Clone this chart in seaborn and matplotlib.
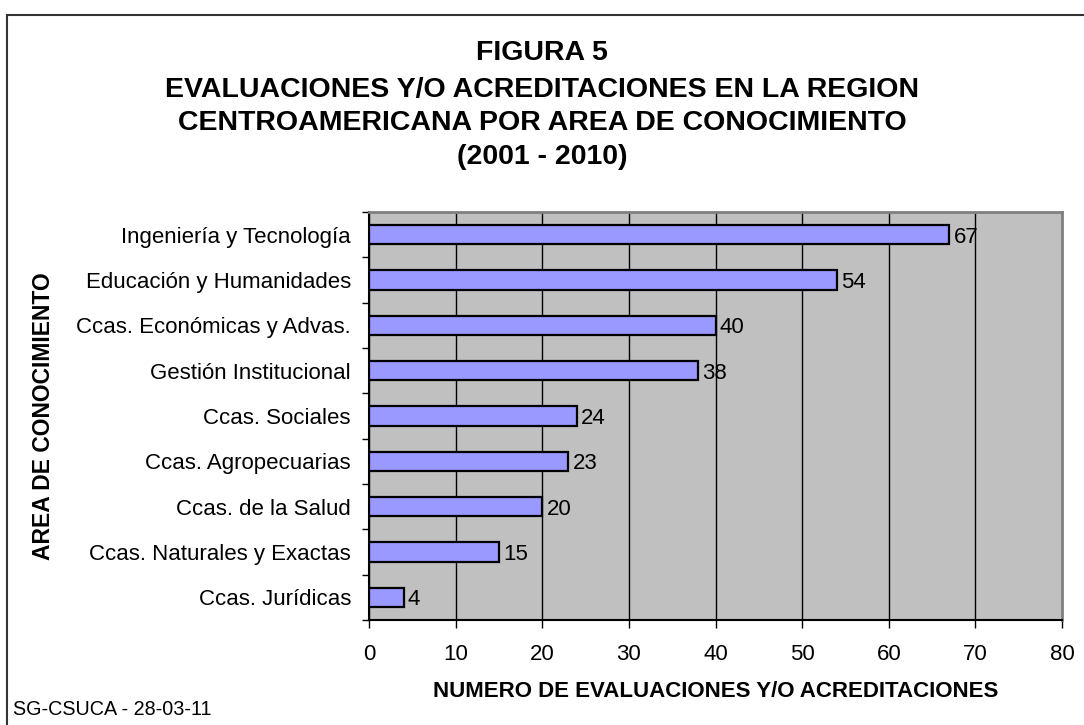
import matplotlib
matplotlib.use('Agg')
import matplotlib.pyplot as plt
import seaborn as sns
import pandas as pd
from matplotlib.patches import Rectangle

# data (top to bottom)
areas = ['Ingeniería y Tecnología', 'Educación y Humanidades', 'Ccas. Económicas y Advas.',
         'Gestión Institucional', 'Ccas. Sociales', 'Ccas. Agropecuarias',
         'Ccas. de la Salud', 'Ccas. Naturales y Exactas', 'Ccas. Jurídicas']
counts = [67, 54, 40, 38, 24, 23, 20, 15, 4]
x_ticks = [0, 10, 20, 30, 40, 50, 60, 70, 80]
title_lines = ['FIGURA 5',
               'EVALUACIONES Y/O ACREDITACIONES EN LA REGION',
               'CENTROAMERICANA POR AREA DE CONOCIMIENTO',
               '(2001 - 2010)']

df = pd.DataFrame({'area': areas, 'n': counts})

sns.set_style('white')
plt.rcParams['font.family'] = ['Liberation Sans', 'DejaVu Sans']
plt.rcParams['text.color'] = 'black'
plt.rcParams['axes.labelcolor'] = 'black'
plt.rcParams['xtick.color'] = 'black'
plt.rcParams['ytick.color'] = 'black'

fig = plt.figure(figsize=(10.84, 7.25), dpi=100)
ax = fig.add_axes([369 / 1084, 1 - 620 / 725, 693 / 1084, 408 / 725])
ax.set_facecolor('#C0C0C0')

sns.barplot(data=df, x='n', y='area', orient='h', color='#9999FF', width=0.42,
            edgecolor='black', linewidth=1.6, saturation=1, ax=ax, zorder=3)

ax.set_xlim(0, 80)
ax.set_ylim(len(areas) - 0.5, -0.5)
ax.set_xticks(x_ticks)
ax.xaxis.grid(True, color='black', linewidth=1)
ax.set_axisbelow(True)

# value labels
for i, v in enumerate(counts):
    ax.text(v + 0.5, i, str(v), va='center_baseline', ha='left', fontsize=16, zorder=4)

# category boundary ticks
ax.set_yticks([i - 0.5 for i in range(len(areas) + 1)], minor=True)
ax.tick_params(axis='y', which='major', length=0, pad=13, labelsize=16)
ax.tick_params(axis='y', which='minor', length=5, width=1, color='black', direction='out', left=True)
ax.tick_params(axis='x', which='major', length=6, width=1, color='black', direction='out',
               bottom=True, pad=11, labelsize=16)

for s in ['top', 'right']:
    ax.spines[s].set_color('#808080')
    ax.spines[s].set_linewidth(2)
for s in ['left', 'bottom']:
    ax.spines[s].set_color('black')
    ax.spines[s].set_linewidth(1.5)

ax.set_xlabel('NUMERO DE EVALUACIONES Y/O ACREDITACIONES', fontsize=16, fontweight='bold', labelpad=12)
ax.set_ylabel('AREA DE CONOCIMIENTO', fontsize=16.5, fontweight='bold')
ax.yaxis.set_label_coords((55 - 369) / 693, 0.5)

# title
baselines = [60, 97, 130, 164]
for line, yb in zip(title_lines, baselines):
    fig.text(0.5, 1 - yb / 725, line, ha='center', va='baseline', fontsize=20.5, fontweight='bold')

fig.text(13 / 1084, 1 - 715 / 725, 'SG-CSUCA - 28-03-11', ha='left', va='baseline', fontsize=14.2)

# outer chart border
fig.patches.append(Rectangle((7 / 1084, -0.05), 1.2, 1.05 - 15 / 725, transform=fig.transFigure,
                             fill=False, edgecolor='#333333', linewidth=1.5))

fig.savefig('out.png', dpi=100)
